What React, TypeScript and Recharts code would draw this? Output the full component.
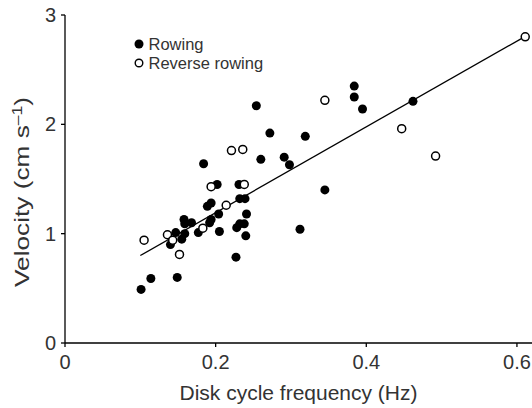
import React from "react";
import {Label, Legend, ReferenceLine, Scatter, ScatterChart, XAxis, YAxis} from "recharts";

// disk cycle frequency (Hz) / velocity (cm s-1)
const rowingFreq = [
   0.101, 0.114, 0.149, 0.14, 0.147, 0.155, 0.159, 0.158, 0.159, 0.168,
   0.177, 0.189, 0.194, 0.192, 0.194, 0.205, 0.204, 0.227, 0.228, 0.232,
   0.238, 0.24, 0.241, 0.232, 0.239, 0.254, 0.184, 0.26, 0.202, 0.231,
   0.272, 0.384, 0.384, 0.395, 0.319, 0.291, 0.298, 0.345, 0.312, 0.462,
];
const rowingVel = [
   0.49, 0.59, 0.6, 0.9, 1.01, 0.95, 1.0, 1.13, 1.09, 1.1,
   1.01, 1.25, 1.28, 1.1, 1.13, 1.02, 1.18, 0.785, 1.055, 1.09,
   1.09, 0.98, 1.18, 1.32, 1.32, 2.17, 1.64, 1.68, 1.45, 1.45,
   1.92, 2.35, 2.25, 2.14, 1.89, 1.7, 1.63, 1.4, 1.04, 2.21,
];
const reverseFreq = [0.105, 0.136, 0.143, 0.152, 0.183, 0.214, 0.221, 0.236, 0.194, 0.238, 0.345, 0.447, 0.492, 0.611];
const reverseVel = [0.94, 0.99, 0.94, 0.81, 1.05, 1.26, 1.76, 1.77, 1.43, 1.45, 2.22, 1.96, 1.71, 2.8];

// regression line end points
const fitFreq = [0.1, 0.61];
const fitVel = [0.8, 2.8];

const xTicks = [0, 0.2, 0.4, 0.6];
const yTicks = [0, 1, 2, 3];

const rowing = rowingFreq.map((x, i) => ({x, y: rowingVel[i]}));
const reverse = reverseFreq.map((x, i) => ({x, y: reverseVel[i]}));
const fit = fitFreq.map((x, i) => ({x, y: fitVel[i]}));

const FONT = '"Liberation Sans", Arial, sans-serif';
const TEXT = "#333";

const Filled = (p: any) => <circle cx={p.cx} cy={p.cy} r={4.5} fill="#000"/>;
const Open = (p: any) => (
   <circle cx={p.cx} cy={p.cy} r={4} fill="#fff" stroke="#000" strokeWidth={1.5}/>
);

const LegendBox = () => (
   <div style={{fontFamily: FONT, fontSize: 16.5, color: TEXT, lineHeight: "19px"}}>
      <div style={{display: "flex", alignItems: "center"}}>
         <svg width={10} height={10}><circle cx={5} cy={5} r={4.5} fill="#000"/></svg>
         <span style={{marginLeft: 5}}>Rowing</span>
      </div>
      <div style={{display: "flex", alignItems: "center"}}>
         <svg width={10} height={10}><circle cx={5} cy={5} r={3.8} fill="#fff" stroke="#000" strokeWidth={1.4}/></svg>
         <span style={{marginLeft: 5}}>Reverse rowing</span>
      </div>
   </div>
);

const YTitle = (props: any) => {
   const vb = props.viewBox;
   const cy = vb.y + vb.height / 2 + 13;
   return (
      <text transform={`translate(28.5,${cy}) rotate(-90)`} textAnchor="middle"
            fontSize={21} fill={TEXT} fontFamily={FONT} textLength={190} lengthAdjust="spacingAndGlyphs">
         Velocity (cm s<tspan dy={-7} fontSize={14}>–1</tspan><tspan dy={7}>)</tspan>
      </text>
   );
};

const tickStyle = {fontSize: 20, fill: TEXT, fontFamily: FONT};

export default function App() {
   return (
      <div style={{position: "absolute", left: 0, top: 0, background: "#fff"}}>
         <ScatterChart width={532} height={408} margin={{top: 15, right: 0, bottom: 0, left: 0}}>
            <XAxis type="number" dataKey="x" domain={[0, 0.62]} ticks={xTicks} height={65}
                   allowDataOverflow tick={tickStyle} tickSize={4} tickMargin={8}
                   axisLine={{stroke: "#000", strokeWidth: 1.3}} tickLine={{stroke: "#000", strokeWidth: 1.3}}>
               <Label value="Disk cycle frequency (Hz)" position="insideBottom" offset={8}
                      style={{fontSize: 21, fill: TEXT, fontFamily: FONT}}/>
            </XAxis>
            <YAxis type="number" dataKey="y" domain={[0, 3]} ticks={yTicks} width={65}
                   allowDataOverflow tick={tickStyle} tickSize={4} tickMargin={5}
                   axisLine={{stroke: "#000", strokeWidth: 1.3}} tickLine={{stroke: "#000", strokeWidth: 1.3}}>
               <Label content={YTitle}/>
            </YAxis>
            <Legend content={LegendBox} layout="horizontal" verticalAlign="middle" align="center"
                    wrapperStyle={{left: 133.5, top: 34.5, width: "auto"}}/>
            <ReferenceLine segment={fit} stroke="#000" strokeWidth={1.3}/>
            <Scatter name="Rowing" data={rowing} shape={Filled} isAnimationActive={false}/>
            <Scatter name="Reverse rowing" data={reverse} shape={Open} isAnimationActive={false}/>
         </ScatterChart>
      </div>
   );
}
